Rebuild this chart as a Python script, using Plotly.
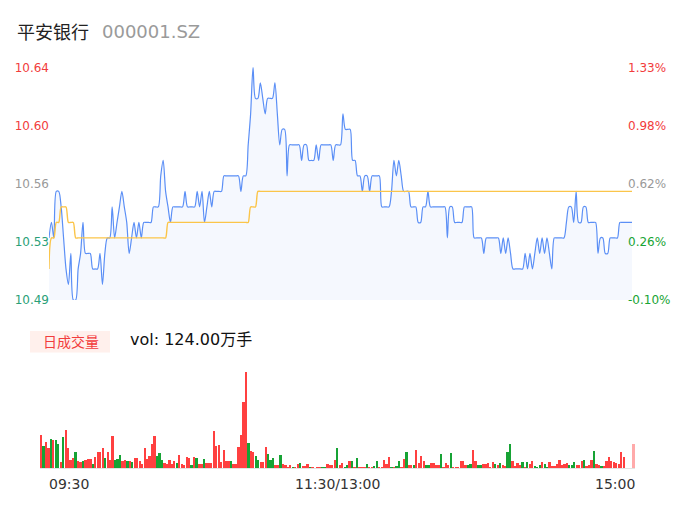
import plotly.graph_objects as go

# ---- data -------------------------------------------------------------
stock_name = "平安银行"
stock_code = "000001.SZ"
pre_close = 10.50
vol_total_text = "vol: 124.00万手"
time_labels = ["09:30", "11:30/13:00", "15:00"]
time_label_pos = [0, 120, 240]

# minute close prices, 09:30-11:30 then 13:01-15:00 (241 points)
price = [
    10.53, 10.54, 10.53, 10.56, 10.56, 10.55, 10.53, 10.51, 10.50, 10.52,
    10.49, 10.49, 10.51, 10.52, 10.54, 10.52, 10.52, 10.52, 10.51, 10.51,
    10.51, 10.52, 10.50, 10.52, 10.53, 10.53, 10.55, 10.53, 10.54, 10.55,
    10.56, 10.55, 10.54, 10.52, 10.53, 10.54, 10.53, 10.54, 10.53, 10.54,
    10.54, 10.54, 10.54, 10.55, 10.55, 10.55, 10.57, 10.58, 10.56, 10.55,
    10.54, 10.55, 10.55, 10.55, 10.55, 10.55, 10.56, 10.55, 10.55, 10.55,
    10.55, 10.56, 10.55, 10.56, 10.54, 10.55, 10.56, 10.55, 10.56, 10.56,
    10.56, 10.56, 10.57, 10.57, 10.57, 10.57, 10.57, 10.57, 10.57, 10.56,
    10.57, 10.57, 10.59, 10.61, 10.64, 10.62, 10.62, 10.63, 10.62, 10.61,
    10.62, 10.62, 10.62, 10.63, 10.61, 10.59, 10.60, 10.60, 10.57, 10.59,
    10.59, 10.59, 10.59, 10.59, 10.58, 10.59, 10.59, 10.58, 10.58, 10.58,
    10.59, 10.58, 10.59, 10.59, 10.59, 10.59, 10.59, 10.58, 10.59, 10.59,
    10.59, 10.61, 10.60, 10.60, 10.60, 10.58, 10.58, 10.57, 10.57, 10.56,
    10.57, 10.57, 10.56, 10.57, 10.57, 10.57, 10.57, 10.55, 10.55, 10.55,
    10.55, 10.56, 10.58, 10.57, 10.58, 10.57, 10.56, 10.56, 10.56, 10.55,
    10.55, 10.55, 10.54, 10.54, 10.55, 10.55, 10.56, 10.55, 10.55, 10.55,
    10.55, 10.55, 10.55, 10.55, 10.53, 10.55, 10.55, 10.54, 10.54, 10.54,
    10.54, 10.55, 10.55, 10.55, 10.55, 10.53, 10.53, 10.53, 10.53, 10.52,
    10.53, 10.53, 10.53, 10.53, 10.53, 10.53, 10.52, 10.53, 10.52, 10.53,
    10.52, 10.51, 10.51, 10.51, 10.51, 10.51, 10.52, 10.51, 10.52, 10.51,
    10.52, 10.53, 10.52, 10.53, 10.52, 10.53, 10.52, 10.51, 10.53, 10.53,
    10.53, 10.53, 10.53, 10.54, 10.55, 10.55, 10.54, 10.56, 10.54, 10.54,
    10.55, 10.55, 10.54, 10.54, 10.54, 10.54, 10.52, 10.53, 10.53, 10.52,
    10.52, 10.53, 10.53, 10.53, 10.53, 10.54, 10.54, 10.54, 10.54, 10.54,
    10.54,
]

# running average price
avg_price = [
    10.51, 10.53, 10.53, 10.54, 10.54, 10.55, 10.55, 10.55, 10.54, 10.54,
    10.54, 10.53, 10.53, 10.53, 10.53, 10.53, 10.53, 10.53, 10.53, 10.53,
    10.53, 10.53, 10.53, 10.53, 10.53, 10.53, 10.53, 10.53, 10.53, 10.53,
    10.53, 10.53, 10.53, 10.53, 10.53, 10.53, 10.53, 10.53, 10.53, 10.53,
    10.53, 10.53, 10.53, 10.53, 10.53, 10.53, 10.53, 10.53, 10.53, 10.54,
    10.54, 10.54, 10.54, 10.54, 10.54, 10.54, 10.54, 10.54, 10.54, 10.54,
    10.54, 10.54, 10.54, 10.54, 10.54, 10.54, 10.54, 10.54, 10.54, 10.54,
    10.54, 10.54, 10.54, 10.54, 10.54, 10.54, 10.54, 10.54, 10.54, 10.54,
    10.54, 10.54, 10.54, 10.55, 10.55, 10.55, 10.56, 10.56, 10.56, 10.56,
    10.56, 10.56, 10.56, 10.56, 10.56, 10.56, 10.56, 10.56, 10.56, 10.56,
    10.56, 10.56, 10.56, 10.56, 10.56, 10.56, 10.56, 10.56, 10.56, 10.56,
    10.56, 10.56, 10.56, 10.56, 10.56, 10.56, 10.56, 10.56, 10.56, 10.56,
    10.56, 10.56, 10.56, 10.56, 10.56, 10.56, 10.56, 10.56, 10.56, 10.56,
    10.56, 10.56, 10.56, 10.56, 10.56, 10.56, 10.56, 10.56, 10.56, 10.56,
    10.56, 10.56, 10.56, 10.56, 10.56, 10.56, 10.56, 10.56, 10.56, 10.56,
    10.56, 10.56, 10.56, 10.56, 10.56, 10.56, 10.56, 10.56, 10.56, 10.56,
    10.56, 10.56, 10.56, 10.56, 10.56, 10.56, 10.56, 10.56, 10.56, 10.56,
    10.56, 10.56, 10.56, 10.56, 10.56, 10.56, 10.56, 10.56, 10.56, 10.56,
    10.56, 10.56, 10.56, 10.56, 10.56, 10.56, 10.56, 10.56, 10.56, 10.56,
    10.56, 10.56, 10.56, 10.56, 10.56, 10.56, 10.56, 10.56, 10.56, 10.56,
    10.56, 10.56, 10.56, 10.56, 10.56, 10.56, 10.56, 10.56, 10.56, 10.56,
    10.56, 10.56, 10.56, 10.56, 10.56, 10.56, 10.56, 10.56, 10.56, 10.56,
    10.56, 10.56, 10.56, 10.56, 10.56, 10.56, 10.56, 10.56, 10.56, 10.56,
    10.56, 10.56, 10.56, 10.56, 10.56, 10.56, 10.56, 10.56, 10.56, 10.56,
    10.56,
]

# minute volume, in hundreds of lots (百手)
volume = [
    210, 140, 166, 124, 180, 174, 174, 150, 40, 194,
    240, 126, 50, 66, 100, 46, 38, 46, 54, 56,
    60, 26, 70, 104, 100, 124, 66, 104, 50, 204,
    50, 58, 84, 44, 50, 46, 46, 40, 66, 66,
    46, 30, 124, 60, 78, 150, 200, 80, 96, 54,
    36, 30, 50, 30, 46, 34, 84, 26, 24, 70,
    66, 24, 70, 66, 30, 30, 58, 36, 36, 36,
    230, 140, 144, 38, 116, 46, 46, 44, 26, 26,
    130, 210, 414, 600, 160, 110, 100, 80, 54, 40,
    40, 134, 90, 54, 64, 18, 18, 86, 30, 20,
    6, 18, 10, 8, 28, 36, 16, 16, 28, 6,
    10, 2, 10, 10, 8, 8, 28, 20, 24, 50,
    124, 20, 36, 10, 24, 46, 46, 10, 62, 10,
    10, 10, 28, 10, 6, 16, 44, 8, 4, 54,
    26, 70, 10, 10, 16, 44, 10, 60, 102, 24,
    18, 18, 114, 36, 78, 44, 24, 24, 34, 34,
    20, 18, 90, 10, 36, 24, 94, 10, 10, 4,
    46, 44, 24, 18, 26, 114, 44, 18, 18, 30,
    30, 34, 10, 42, 30, 20, 34, 18, 14, 104,
    154, 46, 14, 34, 24, 40, 6, 38, 30, 46,
    16, 10, 20, 40, 30, 6, 40, 16, 16, 30,
    50, 20, 30, 34, 24, 24, 40, 24, 24, 46,
    50, 14, 24, 50, 106, 28, 24, 16, 16, 48,
    70, 46, 40, 36, 30, 100, 70, 0, 0, 0,
    150,
]

# R = up minute, G = down minute, A = closing auction
direction = (
    "RGRRGRGGRG" "RRRRGRRGRR" "RGRRRRGRRR" "GGGRRGRGRR" "RRRRRRRGGG"
    "RRRRRGRRRR" "RGRGRRGRRR" "RRRRRRRGRR" "RRRRGRRGGR" "RRGGGRRGRR"
    "RRGRRGRRRG" "RRRRGGRRRR" "GRRGGRGRGR" "RRGRRGGRRR" "RRGRGGRRGR"
    "RGRRRRGGRR" "RRGRRRGRRR" "RRRGGRRGGR" "RRRRGRGRRG" "GRRRRGRGRR"
    "GGGRGGRRRR" "RRRRGGGRRR" "GRRRGRRGRR" "RRRRRRRRRR" "A"
)

# ---- styling ----------------------------------------------------------
W, H = 686, 524
RED = "#f23c3c"
GREEN_L = "#2a9f78"
GREEN_R = "#19a434"
GRAY = "#999999"
BAR_COLORS = {"R": "#ff4040", "G": "#17a335", "A": "#ffaaaa"}


def px_x(p):
    return p / W


def px_y(p):
    return 1 - p / H


minutes = list(range(len(price)))
p_lo, p_hi = 10.49, 10.64
tick_vals = [round(p_lo + k * (p_hi - p_lo) / 4, 6) for k in range(5)]
label_colors_l = [GREEN_L, GREEN_L, GRAY, RED, RED]
label_colors_r = [GREEN_R, GREEN_R, GRAY, RED, RED]
left_text = [f'<span style="color:{c}">{v:.2f}</span>'
             for v, c in zip(tick_vals, label_colors_l)]
right_text = [f'<span style="color:{c}">{(v / pre_close - 1) * 100:.2f}%</span>'
              for v, c in zip(tick_vals, label_colors_r)]

fig = go.Figure()

fig.add_trace(go.Scatter(
    x=minutes, y=price, mode="lines",
    line=dict(color="#5b8ff6", width=1.2, shape="spline", smoothing=0.8),
    fill="tozeroy", fillcolor="#f5f8fe",
    xaxis="x", yaxis="y", hoverinfo="skip",
))
fig.add_trace(go.Scatter(
    x=minutes, y=avg_price, mode="lines",
    line=dict(color="#fbc54a", width=1.4, shape="spline", smoothing=0.8),
    xaxis="x", yaxis="y2", hoverinfo="skip",
))
fig.add_trace(go.Bar(
    x=minutes, y=volume,
    marker=dict(color=[BAR_COLORS[d] for d in direction], line=dict(width=0)),
    width=0.72, xaxis="x2", yaxis="y3", hoverinfo="skip",
))

fig.update_layout(
    width=W, height=H,
    margin=dict(l=0, r=0, t=0, b=0),
    paper_bgcolor="white", plot_bgcolor="rgba(0,0,0,0)",
    showlegend=False,
    font=dict(family="DejaVu Sans, Noto Sans CJK SC", size=12, color="#333"),
    bargap=0,
    xaxis=dict(domain=[px_x(49), px_x(632)], range=[0, 240],
               showgrid=False, zeroline=False, showticklabels=False,
               anchor="y"),
    yaxis=dict(range=[p_lo, p_hi], domain=[px_y(301), px_y(62)],
               anchor="free", position=px_x(49),
               tickvals=tick_vals, ticktext=left_text,
               showgrid=False, zeroline=False, ticks="",
               tickfont=dict(size=12)),
    yaxis2=dict(range=[p_lo, p_hi], overlaying="y", side="right",
                anchor="free", position=px_x(627),
                tickvals=tick_vals, ticktext=right_text,
                showgrid=False, zeroline=False, ticks="",
                tickfont=dict(size=12)),
    xaxis2=dict(domain=[px_x(40), px_x(635)], range=[-0.5, 240.5],
                showgrid=False, zeroline=False, showticklabels=False,
                showline=True, linecolor="#e3e3e3", linewidth=1,
                anchor="y3"),
    yaxis3=dict(domain=[px_y(474), px_y(375)], range=[0, 600],
                showgrid=False, zeroline=False, showticklabels=False),
)

annotations = [
    dict(text=stock_name, x=px_x(15), y=px_y(25), xanchor="left",
         yanchor="middle", font=dict(size=18, color="#222",
                                     family="Noto Sans CJK SC")),
    dict(text=stock_code, x=px_x(100), y=px_y(25), xanchor="left",
         yanchor="middle", font=dict(size=18, color="#9a9a9a")),
    dict(text="日成交量", x=px_x(71), y=px_y(343), xanchor="center",
         yanchor="middle", font=dict(size=14, color="#f23c3c",
                                     family="Noto Sans CJK SC")),
    dict(text=vol_total_text, x=px_x(128), y=px_y(342), xanchor="left",
         yanchor="middle", font=dict(size=16, color="#111")),
]
anchors = ["left", "center", "right"]
shifts = [6, 0, 3]
for lab, pos, anc, sh in zip(time_labels, time_label_pos, anchors, shifts):
    annotations.append(dict(
        text=lab, x=pos, y=0, xref="x2", yref="y3",
        xanchor=anc, yanchor="top", xshift=sh, yshift=-6,
        showarrow=False, font=dict(size=14, color="#333"),
    ))
for a in annotations:
    a.setdefault("xref", "paper")
    a.setdefault("yref", "paper")
    a.setdefault("showarrow", False)
fig.update_layout(annotations=annotations)

fig.add_shape(type="rect", xref="paper", yref="paper",
              x0=px_x(30), x1=px_x(110), y0=px_y(355), y1=px_y(333),
              fillcolor="#fff0ec", line=dict(width=0), layer="below")

fig.write_html("out.html")
